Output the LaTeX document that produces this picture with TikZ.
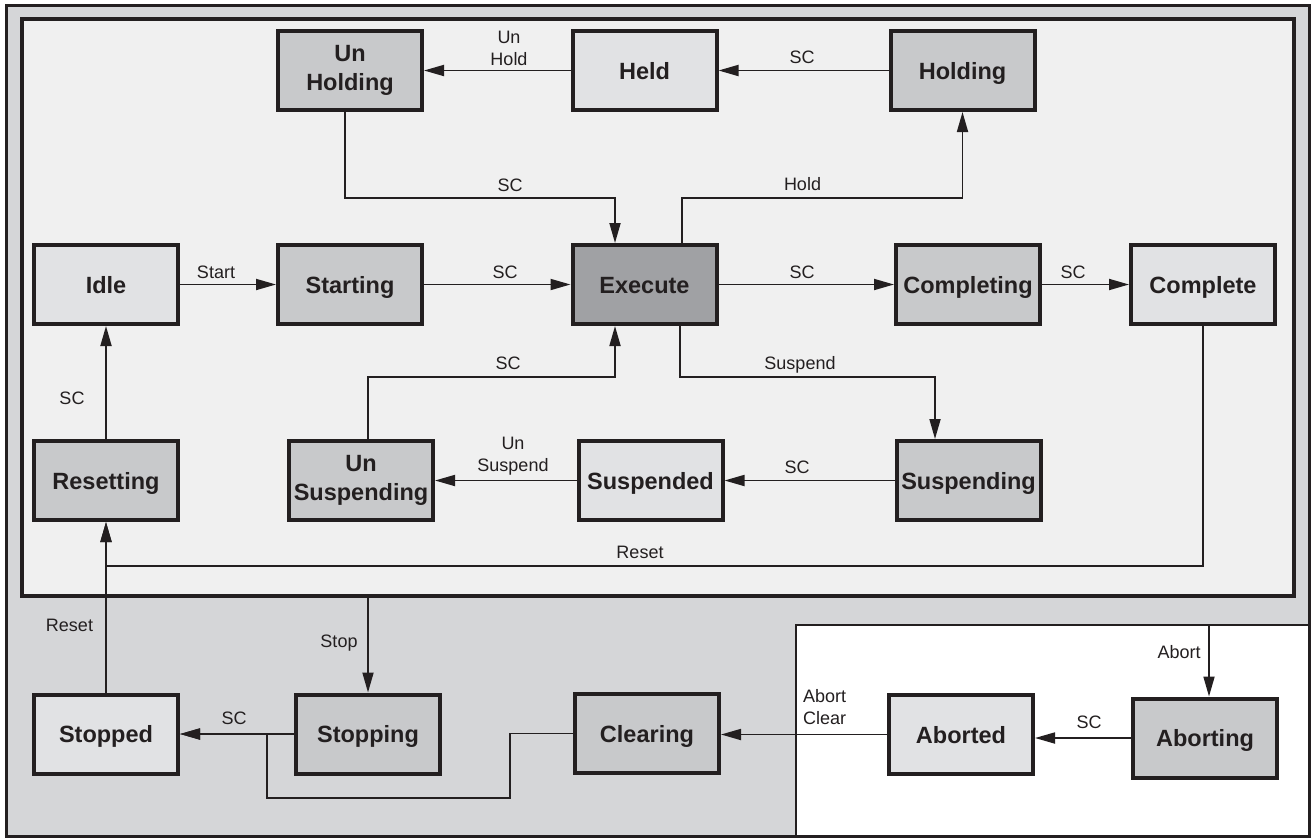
\documentclass[tikz,border=0pt]{standalone}
\usepackage{fontspec}
\setsansfont{Liberation Sans}
\usetikzlibrary{arrows.meta}
\definecolor{ink}{HTML}{231F20}
\definecolor{paneouter}{HTML}{D5D6D8}
\definecolor{paneinner}{HTML}{F0F0F0}
\definecolor{stlight}{HTML}{E1E2E4}
\definecolor{stmid}{HTML}{C8C9CB}
\definecolor{stdark}{HTML}{A0A1A4}
\begin{document}
\begin{tikzpicture}[x=1pt,y=-1pt,
  font=\sffamily,
  state/.style={draw=ink, line width=4pt, minimum width=144pt, minimum height=79pt,
    inner sep=0pt, align=center, text=ink,
    font=\sffamily\bfseries\fontsize{23.5}{29}\selectfont},
  oneline/.style={text height=17pt, text depth=0pt},
  light/.style={state, fill=stlight},
  mid/.style={state, fill=stmid},
  dark/.style={state, fill=stdark},
  arr/.style={draw=ink, line width=1.8pt, -{Triangle[length=20pt,width=11pt]}},
  lbl/.style={inner sep=0pt, text=ink, font=\sffamily\fontsize{18}{22}\selectfont,
    text height=12.9pt, text depth=0pt},
  lbltwo/.style={inner sep=0pt, text=ink, align=center,
    font=\sffamily\fontsize{18}{22}\selectfont}]
\useasboundingbox (0,0) rectangle (1311,838);

% panes
\draw[ink, line width=3pt, fill=paneouter] (6.5,5.5) rectangle (1309.5,836.5);
\fill[white] (796,625) rectangle (1308,835);
\draw[ink, line width=1.5pt] (796,835) -- (796,625) -- (1308,625);
\draw[ink, line width=3pt] (6.5,5.5) rectangle (1309.5,836.5);
\draw[ink, line width=4pt, fill=paneinner] (22,19) rectangle (1294,595.5);

% states
\node[mid]            (unholding)    at (350,70.5)  {Un\\Holding};
\node[light, oneline] (held)         at (644.5,70.5) {Held};
\node[mid, oneline]   (holding)      at (962.5,70.5) {Holding};
\node[light, oneline] (idle)         at (106,284.5) {Idle};
\node[mid, oneline]   (starting)     at (350,284.5) {Starting};
\node[dark, oneline]  (execute)      at (644.5,284.5) {Execute};
\node[mid, oneline]   (completing)   at (968,284.5) {Completing};
\node[light, oneline] (complete)     at (1203,284.5) {Complete};
\node[mid, oneline]   (resetting)    at (106,480.5) {Resetting};
\node[mid]            (unsuspending) at (361,480.5) {Un\\Suspending};
\node[light, oneline] (suspended)    at (650.5,480.5) {Suspended};
\node[mid, oneline]   (suspending)   at (968.5,480.5) {Suspending};
\node[light, oneline] (stopped)      at (106,734) {Stopped};
\node[mid, oneline]   (stopping)     at (368,734) {Stopping};
\node[mid, oneline]   (clearing)     at (647,733.5) {Clearing};
\node[light, oneline] (aborted)      at (961,734.5) {Aborted};
\node[mid, oneline]   (aborting)     at (1205,738) {Aborting};

% routing points
\coordinate (holdbus) at (0,198);
\coordinate (suspbus) at (0,377);
\coordinate (resetbus) at (0,566);
\coordinate (exin) at ([xshift=-29.5pt]execute.north);
\coordinate (exhold) at ([xshift=37.5pt]execute.north);
\coordinate (exsusp) at ([xshift=35.5pt]execute.south);
\coordinate (exback) at ([xshift=-29.5pt]execute.south);
\coordinate (uhout) at ([xshift=-5pt]unholding.south);
\coordinate (usout) at ([xshift=7pt]unsuspending.north);
\coordinate (sgin) at ([xshift=-33.5pt]suspending.north);
\coordinate (stopsrc) at (368,597);
\coordinate (abortsrc) at (1209,625.5);
\coordinate (clrA) at (510,798);
\coordinate (clrB) at (267,798);

% transitions
\draw[arr] (held.west) -- (unholding.east);
\draw[arr] (holding.west) -- (held.east);
\draw[arr] (uhout) |- (holdbus -| exin) -- (exin);
\draw[arr] (exhold) |- (holdbus -| holding.south) -- (holding.south);
\draw[arr] (idle.east) -- (starting.west);
\draw[arr] (starting.east) -- (execute.west);
\draw[arr] (execute.east) -- (completing.west);
\draw[arr] (completing.east) -- (complete.west);
\draw[arr] (exsusp) |- (suspbus -| sgin) -- (sgin);
\draw[arr] (usout) |- (suspbus -| exback) -- (exback);
\draw[arr] (suspending.west) -- (suspended.east);
\draw[arr] (suspended.west) -- (unsuspending.east);
\draw[arr] (resetting.north) -- (idle.south);
\draw[arr] (complete.south) |- (resetbus -| resetting.south) -- (resetting.south);
\draw[arr] (stopped.north) -- (resetting.south);
\draw[arr] (stopsrc) -- (stopping.north);
\draw[arr] (stopping.west) -- (stopped.east);
\draw[arr] (clearing.west) -| (clrA) -- (clrB) |- (stopped.east);
\draw[arr] (aborted.west) -- (aborted.west -| clearing.east);
\draw[arr] (aborting.west) -- (aborting.west -| aborted.east);
\draw[arr] (abortsrc) -- (abortsrc |- aborting.north);

% transition labels
\node[lbltwo, anchor=north] (lUnHold) at (509,31) {Un\\Hold};
\node[lbl] (lHeld)   at (802,57)  {SC};
\node[lbl] (lUhEx)   at (510,185) {SC};
\node[lbl] (lHold)   at (802.5,184.5) {Hold};
\node[lbl] (lStart)  at (216,272) {Start};
\node[lbl] (lStEx)   at (505,272) {SC};
\node[lbl] (lExCg)   at (802,272) {SC};
\node[lbl] (lCgCe)   at (1073,272) {SC};
\node[lbl] (lSusp)   at (800,363) {Suspend};
\node[lbl] (lUsEx)   at (508,363) {SC};
\node[lbl] (lSgSd)   at (797,467) {SC};
\node[lbltwo, anchor=north] (lUnSusp) at (513,437) {Un\\Suspend};
\node[lbl] (lReId)   at (72,398)  {SC};
\node[lbl] (lReset)  at (640,552) {Reset};
\node[lbl] (lReset2) at (69.5,625) {Reset};
\node[lbl] (lStop)   at (339,641) {Stop};
\node[lbl] (lSpSd)   at (234,718) {SC};
\node[lbltwo, anchor=north west, align=left] (lAbClr) at (803,689) {Abort\\Clear};
\node[lbl] (lAbort)  at (1179,652) {Abort};
\node[lbl] (lAgAd)   at (1089,722) {SC};
\end{tikzpicture}
\end{document}
